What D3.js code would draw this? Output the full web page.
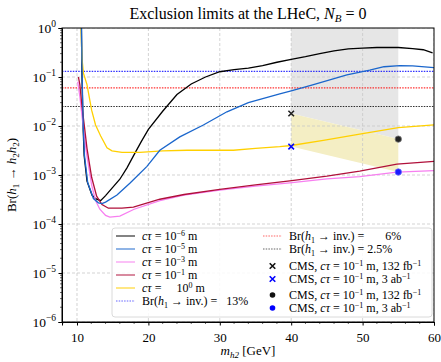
<!DOCTYPE html>
<html>
<head>
<meta charset="utf-8">
<script src="https://cdn.jsdelivr.net/npm/d3@7"></script>
<style>
  body { margin: 0; background: #fff; }
  svg text { font-family: "Liberation Serif", "DejaVu Serif", serif; fill: #000; }
</style>
</head>
<body>
<div id="chart"></div>
<script>
// curves: [m_h2 (GeV), Br]
const ct1e6 = [[10.6, 1.5], [10.7, 0.1], [10.85, 0.01], [11.0, 0.0025], [11.4, 0.00075], [12.1, 0.00039], [12.6, 0.00033], [13.3, 0.0003],
  [14, 0.00038], [15, 0.00056], [16, 0.00082], [17, 0.0014], [18, 0.0026], [19, 0.0048], [20, 0.0085], [22, 0.02], [24, 0.044],
  [26, 0.072], [28, 0.1], [30, 0.128], [32, 0.142], [34, 0.152], [36, 0.17], [38, 0.2], [40, 0.23], [42, 0.26], [44, 0.3],
  [46, 0.34], [48, 0.375], [50, 0.39], [52, 0.4], [54, 0.4], [55, 0.4], [57, 0.38], [58.5, 0.36], [59.8, 0.31]];
const ct1e5 = [[10.62, 1.5], [10.72, 0.1], [10.87, 0.01], [11.05, 0.0025], [11.5, 0.0007], [12.3, 0.00033], [13, 0.00027], [13.5, 0.00026],
  [14, 0.00028], [15.6, 0.00039], [17.4, 0.00068], [19.8, 0.0015], [21.6, 0.0032], [24.4, 0.006], [27.7, 0.0105], [31, 0.0195],
  [34, 0.03], [38.4, 0.045], [40, 0.052], [43, 0.069], [47.8, 0.11], [51, 0.138], [53, 0.162], [55.2, 0.17], [57, 0.168], [60, 0.155]];
const ct1e3 = [[10.1, 0.08], [10.4, 0.04], [10.8, 0.012], [11.3, 0.003], [12.05, 0.00063], [12.6, 0.0003], [13.2, 0.0002], [14, 0.00015],
  [14.6, 0.000138], [16, 0.000145], [18, 0.0002], [21.6, 0.0003], [25, 0.00039], [30, 0.00049], [35, 0.00059], [39.8, 0.00069],
  [45, 0.00083], [49.6, 0.00093], [54.8, 0.00114], [60, 0.00123]];
const ct1e1 = [[10.2, 0.1], [10.4, 0.07], [10.7, 0.025], [11, 0.011], [11.4, 0.0035], [12.05, 0.0009], [12.75, 0.00037], [13.5, 0.00025],
  [14.4, 0.00021], [16.3, 0.00021], [17.9, 0.00022], [21.6, 0.00032], [25, 0.0004], [30, 0.00051], [35, 0.00063], [39.8, 0.00076],
  [45, 0.00095], [49.6, 0.0012], [54.8, 0.00166], [60, 0.0019]];
const ct1e0 = [[10.55, 1.2], [10.7, 0.24], [10.9, 0.12], [11.4, 0.07], [12.05, 0.021], [12.6, 0.0105], [13.3, 0.0063], [14.2, 0.0036],
  [14.9, 0.0031], [16.3, 0.0029], [18.8, 0.0029], [22, 0.0031], [25.4, 0.0032], [31.9, 0.0032], [35, 0.0035], [38.4, 0.0038],
  [40, 0.004], [44.5, 0.0051], [50, 0.007], [55, 0.0093], [60, 0.0105]];

const brInv = [0.13, 0.06, 0.025];
const cms132 = [[40, 0.018], [55, 0.0054]];
const cms3ab = [[40, 0.0038], [55, 0.00115]];

const xTicks = [10, 20, 30, 40, 50, 60];
const yExps = [0, -1, -2, -3, -4, -5, -6];

const width = 441, height = 362;
const margin = {top: 28, right: 7, bottom: 40, left: 62};
const iw = width - margin.left - margin.right;
const ih = height - margin.top - margin.bottom;

const svg = d3.select('#chart').append('svg')
  .attr('width', width).attr('height', height);

const x = d3.scaleLinear().domain([7.9, 60]).range([0, iw]);
const y = d3.scaleLog().domain([1e-6, 1]).range([ih, 0]);

svg.append('defs').append('clipPath').attr('id', 'clip')
  .append('rect').attr('width', iw).attr('height', ih);

const g = svg.append('g').attr('transform', `translate(${margin.left},${margin.top})`);
const plot = g.append('g').attr('clip-path', 'url(#clip)');

// CMS shaded regions
plot.append('path')
  .attr('d', `M${x(40)},${y(1)}L${x(55)},${y(1)}L${x(55)},${y(cms132[1][1])}L${x(40)},${y(cms132[0][1])}Z`)
  .attr('fill', '#e6e6e6');
plot.append('path')
  .attr('d', `M${x(40)},${y(cms132[0][1])}L${x(55)},${y(cms132[1][1])}L${x(55)},${y(cms3ab[1][1])}L${x(40)},${y(cms3ab[0][1])}Z`)
  .attr('fill', '#f4eec4');

// grid
plot.selectAll('.gx').data(xTicks).enter().append('line')
  .attr('x1', d => x(d)).attr('x2', d => x(d)).attr('y1', 0).attr('y2', ih)
  .attr('stroke', '#c8c8c8').attr('stroke-width', 0.8).attr('stroke-dasharray', '3,2');
plot.selectAll('.gy').data(yExps).enter().append('line')
  .attr('x1', 0).attr('x2', iw).attr('y1', d => y(Math.pow(10, d))).attr('y2', d => y(Math.pow(10, d)))
  .attr('stroke', '#c8c8c8').attr('stroke-width', 0.8).attr('stroke-dasharray', '3,2');

// horizontal Br(h1 -> inv.) lines
const invColors = ['#0000ff', '#ff0000', '#000000'];
plot.selectAll('.inv').data(brInv).enter().append('line')
  .attr('x1', 0).attr('x2', iw).attr('y1', d => y(d)).attr('y2', d => y(d))
  .attr('stroke', (d, i) => invColors[i]).attr('stroke-width', 1.1)
  .attr('stroke-dasharray', '1.5,1.2').attr('opacity', 0.8);

const line = d3.line().x(d => x(d[0])).y(d => y(d[1]));
const curves = [
  {data: ct1e6, color: '#000000'},
  {data: ct1e3, color: '#f77ff0'},
  {data: ct1e1, color: '#b0103a'},
  {data: ct1e0, color: '#ffd000'},
  {data: ct1e5, color: '#1a66cc'}
];
plot.selectAll('.curve').data(curves).enter().append('path')
  .attr('d', d => line(d.data)).attr('fill', 'none')
  .attr('stroke', d => d.color).attr('stroke-width', 1.3);

// CMS markers
const cross = d3.symbol().type(d3.symbolX).size(22);
g.append('path').attr('d', cross).attr('transform', `translate(${x(cms132[0][0])},${y(cms132[0][1])})`)
  .attr('stroke', '#222').attr('stroke-width', 1.6).attr('fill', 'none');
g.append('path').attr('d', cross).attr('transform', `translate(${x(cms3ab[0][0])},${y(cms3ab[0][1])})`)
  .attr('stroke', '#0000ff').attr('stroke-width', 1.6).attr('fill', 'none');
g.append('circle').attr('cx', x(cms132[1][0])).attr('cy', y(cms132[1][1])).attr('r', 3.2)
  .attr('fill', '#222').attr('stroke', '#777').attr('stroke-width', 0.8);
g.append('circle').attr('cx', x(cms3ab[1][0])).attr('cy', y(cms3ab[1][1])).attr('r', 3.2)
  .attr('fill', '#1a1aff').attr('stroke', '#6a6aff').attr('stroke-width', 0.8);

// axes
const xAxis = d3.axisBottom(x).tickValues(xTicks).tickSize(3.5).tickFormat(d3.format('d'));
const gx = g.append('g').attr('transform', `translate(0,${ih})`).call(xAxis);
gx.selectAll('text').attr('font-size', 13).attr('dy', '1.0em');
gx.append('g').selectAll('line').data(d3.range(8, 61, 2).filter(d => d % 10 !== 0)).enter().append('line')
  .attr('x1', d => x(d)).attr('x2', d => x(d)).attr('y1', 0).attr('y2', 2)
  .attr('stroke', '#000').attr('stroke-width', 0.6);

const yAxis = d3.axisLeft(y).tickValues(yExps.map(e => Math.pow(10, e))).tickSize(3.5).tickFormat('');
const gy = g.append('g').call(yAxis);
const minors = [];
for (let e = -6; e < 0; e++) for (let k = 2; k < 10; k++) minors.push(k * Math.pow(10, e));
gy.append('g').selectAll('line').data(minors).enter().append('line')
  .attr('x1', 0).attr('x2', -2).attr('y1', d => y(d)).attr('y2', d => y(d))
  .attr('stroke', '#000').attr('stroke-width', 0.6);
const ylab = gy.append('g').selectAll('text').data(yExps).enter().append('text')
  .attr('x', -6).attr('y', d => y(Math.pow(10, d)) + 4.5)
  .attr('text-anchor', 'end').attr('font-size', 13.5).style('fill', '#000');
ylab.append('tspan').text('10');
ylab.append('tspan').attr('font-size', 9.5).attr('dy', -5.5)
  .text(d => d === 0 ? '0' : '\u2212' + Math.abs(d));
g.selectAll('.domain').attr('stroke', '#000').attr('stroke-width', 1);

// frame
g.append('rect').attr('width', iw).attr('height', ih)
  .attr('fill', 'none').attr('stroke', '#000').attr('stroke-width', 1);

// title
const title = svg.append('text').attr('x', margin.left + iw / 2).attr('y', 18.5)
  .attr('text-anchor', 'middle').attr('font-size', 16);
title.append('tspan').text('Exclusion limits at the LHeC, ');
title.append('tspan').attr('font-style', 'italic').text('N');
title.append('tspan').attr('font-style', 'italic').attr('font-size', 11).attr('dy', 3).text('B');
title.append('tspan').attr('dy', -3).text(' = 0');

// axis labels
const xl = svg.append('text').attr('x', margin.left + iw / 2).attr('y', 355)
  .attr('text-anchor', 'middle').attr('font-size', 13);
xl.append('tspan').attr('font-style', 'italic').text('m');
xl.append('tspan').attr('font-style', 'italic').attr('font-size', 9).attr('dy', 3).text('h2');
xl.append('tspan').attr('dy', -3).text(' [GeV]');

const yl = svg.append('text').attr('transform', `translate(16,${margin.top + ih / 2}) rotate(-90)`)
  .attr('text-anchor', 'middle').attr('font-size', 13);
yl.append('tspan').text('Br(');
yl.append('tspan').attr('font-style', 'italic').text('h');
yl.append('tspan').attr('font-size', 9).attr('dy', 3).text('1');
yl.append('tspan').attr('dy', -3).text(' \u2192 ');
yl.append('tspan').attr('font-style', 'italic').text('h');
yl.append('tspan').attr('font-size', 9).attr('dy', 3).text('2');
yl.append('tspan').attr('font-style', 'italic').attr('dy', -3).text('h');
yl.append('tspan').attr('font-size', 9).attr('dy', 3).text('2');
yl.append('tspan').attr('dy', -3).text(')');

// legend
const leg = svg.append('g');
leg.append('rect').attr('x', 112).attr('y', 228).attr('width', 320).attr('height', 89).attr('rx', 3)
  .attr('fill', '#fff').attr('fill-opacity', 0.85).attr('stroke', '#d0d0d0').attr('stroke-width', 0.8);

const lfs = 12;
function ctText(t, exp, pad) {
  // "cτ = 10^exp m"
  t.append('tspan').attr('font-style', 'italic').text('c\u03C4');
  t.append('tspan').text(' = ' + (pad ? '\u2002\u2002' : '') + '10');
  t.append('tspan').attr('font-size', 8).attr('dy', -4.5).text(exp);
  t.append('tspan').attr('dy', 4.5).text(' m');
}
function brText(t, val) {
  t.append('tspan').text('Br(');
  t.append('tspan').attr('font-style', 'italic').text('h');
  t.append('tspan').attr('font-size', 8).attr('dy', 2.5).text('1');
  t.append('tspan').attr('dy', -2.5).text(' \u2192 inv.) = ' + val);
}
function cmsText(t, lumi, unit) {
  t.append('tspan').text('CMS, ');
  ctText(t, '\u22121', false);
  t.append('tspan').text(', ' + lumi + ' ' + unit);
  t.append('tspan').attr('font-size', 8).attr('dy', -4.5).text('\u22121');
}

const legCol1 = [
  {color: '#000000', exp: '\u22126', y: 236},
  {color: '#1a66cc', exp: '\u22125', y: 249},
  {color: '#f77ff0', exp: '\u22123', y: 262},
  {color: '#b0103a', exp: '\u22121', y: 275},
  {color: '#ffd000', exp: '0', y: 288, pad: true}
];
legCol1.forEach(d => {
  leg.append('line').attr('x1', 116).attr('x2', 135).attr('y1', d.y).attr('y2', d.y)
    .attr('stroke', d.color).attr('stroke-width', 1.3).attr('opacity', 0.75);
  const t = leg.append('text').attr('x', 142).attr('y', d.y + 4).attr('font-size', lfs);
  ctText(t, d.exp, d.pad);
});
const invLeg = [
  {color: '#0000ff', val: '\u200213%', x: 116, tx: 142, y: 301},
  {color: '#ff0000', val: '\u2002\u2002\u20026%', x: 263, tx: 289, y: 236},
  {color: '#000000', val: '2.5%', x: 263, tx: 289, y: 249}
];
invLeg.forEach(d => {
  leg.append('line').attr('x1', d.x).attr('x2', d.x + 19).attr('y1', d.y).attr('y2', d.y)
    .attr('stroke', d.color).attr('stroke-width', 1.1).attr('stroke-dasharray', '1.5,1.2').attr('opacity', 0.6);
  const t = leg.append('text').attr('x', d.tx).attr('y', d.y + 4).attr('font-size', lfs);
  brText(t, d.val);
});
const cmsLeg = [
  {marker: 'x', color: '#111', lumi: '132', unit: 'fb', y: 266},
  {marker: 'x', color: '#0000ff', lumi: '3', unit: 'ab', y: 279},
  {marker: 'o', color: '#111', lumi: '132', unit: 'fb', y: 295},
  {marker: 'o', color: '#0000ff', lumi: '3', unit: 'ab', y: 308}
];
cmsLeg.forEach(d => {
  if (d.marker === 'x') {
    leg.append('path').attr('d', cross).attr('transform', `translate(272.5,${d.y})`)
      .attr('stroke', d.color).attr('stroke-width', 1.6).attr('fill', 'none');
  } else {
    leg.append('circle').attr('cx', 272.5).attr('cy', d.y).attr('r', 2.8).attr('fill', d.color);
  }
  const t = leg.append('text').attr('x', 289).attr('y', d.y + 4).attr('font-size', lfs);
  cmsText(t, d.lumi, d.unit);
});
</script>
</body>
</html>
